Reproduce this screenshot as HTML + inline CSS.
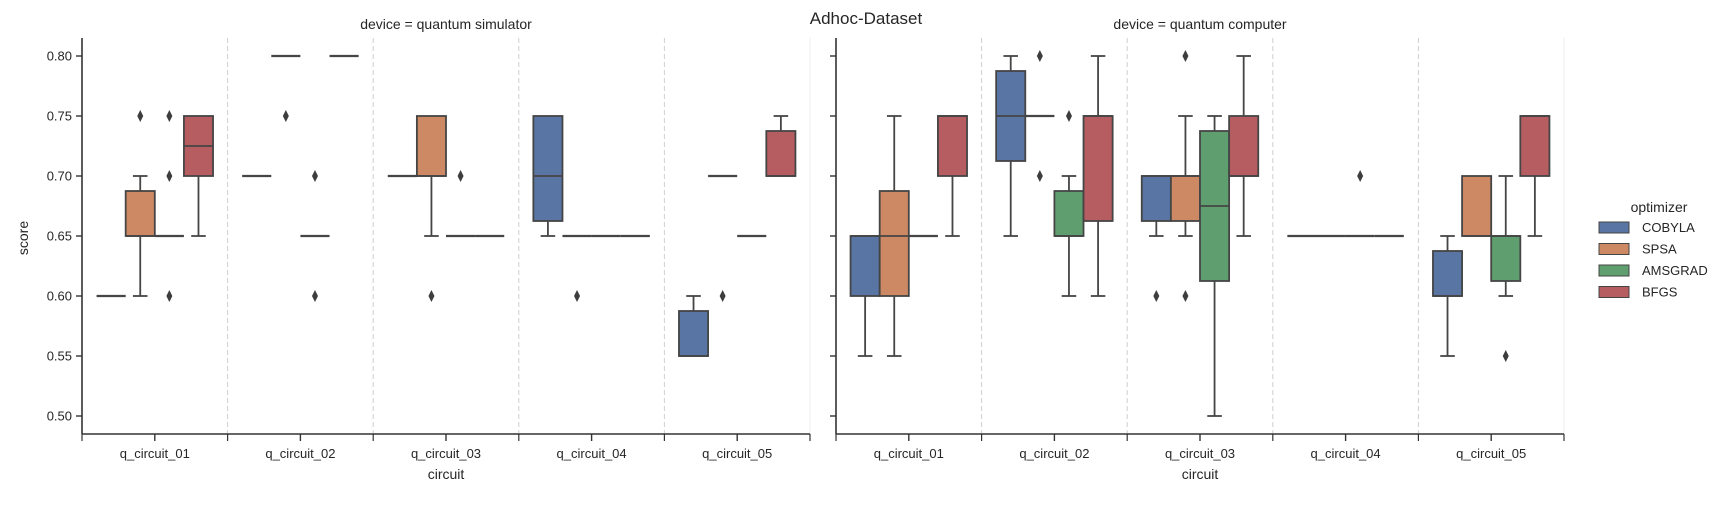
<!DOCTYPE html>
<html><head><meta charset="utf-8"><style>
body{margin:0;background:#fff}
svg text{font-family:"Liberation Sans",sans-serif;fill:#262626}
</style></head><body>
<svg id="chart" width="1732" height="500" viewBox="0 0 1732 500" xmlns="http://www.w3.org/2000/svg">
<text x="866" y="24" font-size="17" text-anchor="middle">Adhoc-Dataset</text>
<g id="panels"></g>
<g id="legend"></g>
</svg>
<script>
const categories=["q_circuit_01","q_circuit_02","q_circuit_03","q_circuit_04","q_circuit_05"];
const optimizers=["COBYLA","SPSA","AMSGRAD","BFGS"];
const colors=["#5875a4","#cc8963","#5f9e6e","#b55d60"];
const yTicks=[0.50,0.55,0.60,0.65,0.70,0.75,0.80];
// each stat: [whiskerLow, q1, median, q3, whiskerHigh, outliers]
const simStats=[
 [[0.60,0.60,0.60,0.60,0.60,[]],[0.60,0.65,0.65,0.6875,0.70,[0.75]],[0.65,0.65,0.65,0.65,0.65,[0.75,0.70,0.60]],[0.65,0.70,0.725,0.75,0.75,[]]],
 [[0.70,0.70,0.70,0.70,0.70,[]],[0.80,0.80,0.80,0.80,0.80,[0.75]],[0.65,0.65,0.65,0.65,0.65,[0.70,0.60]],[0.80,0.80,0.80,0.80,0.80,[]]],
 [[0.70,0.70,0.70,0.70,0.70,[]],[0.65,0.70,0.70,0.75,0.75,[0.60]],[0.65,0.65,0.65,0.65,0.65,[0.70]],[0.65,0.65,0.65,0.65,0.65,[]]],
 [[0.65,0.6625,0.70,0.75,0.75,[]],[0.65,0.65,0.65,0.65,0.65,[0.60]],[0.65,0.65,0.65,0.65,0.65,[]],[0.65,0.65,0.65,0.65,0.65,[]]],
 [[0.55,0.55,0.55,0.5875,0.60,[]],[0.70,0.70,0.70,0.70,0.70,[0.60]],[0.65,0.65,0.65,0.65,0.65,[]],[0.70,0.70,0.70,0.7375,0.75,[]]]
];
const qcStats=[
 [[0.55,0.60,0.65,0.65,0.65,[]],[0.55,0.60,0.65,0.6875,0.75,[]],[0.65,0.65,0.65,0.65,0.65,[]],[0.65,0.70,0.75,0.75,0.75,[]]],
 [[0.65,0.7125,0.75,0.7875,0.80,[]],[0.75,0.75,0.75,0.75,0.75,[0.80,0.70]],[0.60,0.65,0.65,0.6875,0.70,[0.75]],[0.60,0.6625,0.75,0.75,0.80,[]]],
 [[0.65,0.6625,0.70,0.70,0.70,[0.60]],[0.65,0.6625,0.70,0.70,0.75,[0.80,0.60]],[0.50,0.6125,0.675,0.7375,0.75,[]],[0.65,0.70,0.70,0.75,0.80,[]]],
 [[0.65,0.65,0.65,0.65,0.65,[]],[0.65,0.65,0.65,0.65,0.65,[]],[0.65,0.65,0.65,0.65,0.65,[0.70]],[0.65,0.65,0.65,0.65,0.65,[]]],
 [[0.55,0.60,0.60,0.6375,0.65,[]],[0.65,0.65,0.65,0.70,0.70,[]],[0.60,0.6125,0.65,0.65,0.70,[0.55]],[0.65,0.70,0.75,0.75,0.75,[]]]
];
const NS="http://www.w3.org/2000/svg";
const EDGE="#454545";
function mk(tag,attrs,parent){const e=document.createElementNS(NS,tag);for(const k in attrs)e.setAttribute(k,attrs[k]);parent.appendChild(e);return e;}
const plotTop=38,plotBottom=434;
function y(v){return 56+(0.80-v)/0.05*60;}
function drawPanel(x0,stats,title,showY,key){
  const W=728,cw=W/5;
  const xC=i=>x0+(i+0.5)*cw;
  const g=mk("g",{},document.getElementById("panels"));
  
  
  const t=mk("text",{x:x0+W/2,y:29,"font-size":14,"text-anchor":"middle"},g);t.textContent=title;
  
  
  for(let i=1;i<=5;i++){const l=mk("line",{x1:x0+i*cw,x2:x0+i*cw,y1:plotTop,y2:plotBottom,stroke:i==5?"#eeeeee":"#d0d0d0","stroke-dasharray":i==5?"none":"5,3","stroke-width":1},g);
    
    }
  const ya=mk("line",{x1:x0,x2:x0,y1:plotTop,y2:plotBottom,stroke:"#333","stroke-width":1.6},g);
  
  
  const xa=mk("line",{x1:x0,x2:x0+W,y1:plotBottom,y2:plotBottom,stroke:"#333","stroke-width":1.6},g);
  
  
  yTicks.forEach(v=>{mk("line",{x1:x0-6,x2:x0,y1:y(v),y2:y(v),stroke:"#333","stroke-width":1.4},g);
    if(showY){const tt=mk("text",{x:x0-10,y:y(v)+4.5,"font-size":13,"text-anchor":"end"},g);tt.textContent=v.toFixed(2);
      
      }});
  for(let i=0;i<=5;i++)mk("line",{x1:x0+i*cw,x2:x0+i*cw,y1:plotBottom,y2:plotBottom+7,stroke:"#333","stroke-width":1.2},g);
  categories.forEach((c,i)=>{mk("line",{x1:xC(i),x2:xC(i),y1:plotBottom,y2:plotBottom+7,stroke:"#333","stroke-width":1.4},g);
    const tt=mk("text",{x:xC(i),y:plotBottom+24,"font-size":13,"text-anchor":"middle"},g);tt.textContent=c;
    
    });
  const xl=mk("text",{x:x0+W/2,y:plotBottom+45,"font-size":14,"text-anchor":"middle"},g);xl.textContent="circuit";
  
  
  const bw=cw*0.8/4;
  stats.forEach((row,i)=>row.forEach((s,j)=>{
    const cx=xC(i)+(j-1.5)*bw, bx=cx-bw/2;
    const bg=mk("g",{},g);
    
    
    const [wl,q1,md,q3,wh,outs]=s;
    if(q3>q1){
      mk("line",{x1:cx,x2:cx,y1:y(q3),y2:y(wh),stroke:EDGE,"stroke-width":1.8},bg);
      mk("line",{x1:cx,x2:cx,y1:y(q1),y2:y(wl),stroke:EDGE,"stroke-width":1.8},bg);
      if(wh>q3)mk("line",{x1:cx-bw/4,x2:cx+bw/4,y1:y(wh),y2:y(wh),stroke:EDGE,"stroke-width":1.8},bg);
      if(wl<q1)mk("line",{x1:cx-bw/4,x2:cx+bw/4,y1:y(wl),y2:y(wl),stroke:EDGE,"stroke-width":1.8},bg);
      mk("rect",{x:bx,y:y(q3),width:bw,height:y(q1)-y(q3),fill:colors[j],stroke:EDGE,"stroke-width":1.8},bg);
      mk("line",{x1:bx,x2:bx+bw,y1:y(md),y2:y(md),stroke:EDGE,"stroke-width":1.8},bg);
    }else{
      if(wh>q3){mk("line",{x1:cx,x2:cx,y1:y(q3),y2:y(wh),stroke:EDGE,"stroke-width":1.8},bg);
        mk("line",{x1:cx-bw/4,x2:cx+bw/4,y1:y(wh),y2:y(wh),stroke:EDGE,"stroke-width":1.8},bg);}
      if(wl<q1){mk("line",{x1:cx,x2:cx,y1:y(q1),y2:y(wl),stroke:EDGE,"stroke-width":1.8},bg);
        mk("line",{x1:cx-bw/4,x2:cx+bw/4,y1:y(wl),y2:y(wl),stroke:EDGE,"stroke-width":1.8},bg);}
      mk("line",{x1:bx,x2:bx+bw,y1:y(md),y2:y(md),stroke:EDGE,"stroke-width":2.2},bg);
    }
    outs.forEach(o=>{const p=mk("path",{d:`M${cx} ${y(o)-6}L${cx+3} ${y(o)}L${cx} ${y(o)+6}L${cx-3} ${y(o)}Z`,fill:"#3d3d3d"},bg);
      
      });
  }));
}
drawPanel(82,simStats,"device = quantum simulator",true,"simulator");
drawPanel(836,qcStats,"device = quantum computer",false,"computer");
const yt=document.createElementNS(NS,"text");
yt.setAttribute("transform","translate(28,238) rotate(-90)");yt.setAttribute("font-size",14);yt.setAttribute("text-anchor","middle");yt.textContent="score";


document.getElementById("chart").appendChild(yt);
const lg=document.getElementById("legend");
const lt=mk("text",{x:1659,y:212,"font-size":14,"text-anchor":"middle"},lg);lt.textContent="optimizer";


optimizers.forEach((o,j)=>{const eg=mk("g",{},lg);
  
  
  mk("rect",{x:1599,y:222+j*21.5,width:30,height:11,fill:colors[j],stroke:EDGE,"stroke-width":1},eg);
  const t=mk("text",{x:1642,y:232+j*21.5,"font-size":13},eg);t.textContent=o;});
</script>
</body></html>
